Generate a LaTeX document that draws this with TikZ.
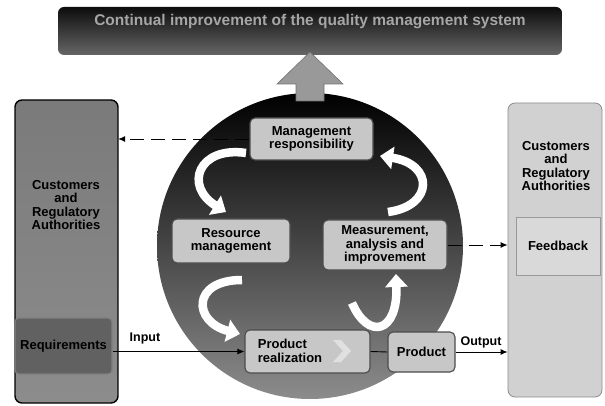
\documentclass[tikz,border=0pt]{standalone}
\usepackage{fontspec}
\setmainfont{Liberation Sans}
\usetikzlibrary{arrows.meta}
\newcommand\dgfont{\fontsize{13}{13.5}\selectfont\bfseries}
\tikzset{
  pbox/.style={draw=black!70, fill=black!22, rounded corners=5pt, line width=1.1pt,
    font=\dgfont, align=center, inner sep=0pt},
  warr/.style={draw=white, line width=8.5pt, -{Triangle[width=22pt,length=13pt]}},
  dasharr/.style={draw=black, line width=0.9pt, dash pattern=on 14pt off 7pt,
    -{Latex[length=7pt,width=6pt]}},
  flowarr/.style={draw=black, line width=0.9pt, -{Latex[length=7pt,width=6pt]}},
  lbl/.style={font=\fontsize{12.5}{13}\selectfont\bfseries, inner sep=0pt},
}
\begin{document}
\begin{tikzpicture}[x=1pt,y=-1pt]
\useasboundingbox (0,0) rectangle (605,406);
% banner
\shade[top color=black!95, bottom color=black!60, rounded corners=6pt]
  (58,7) rectangle (562,55);
\node[font=\fontsize{15.5}{16}\selectfont\bfseries, text=black!35, inner sep=0pt] (banner)
  at (310,22) {Continual improvement of the quality management system};
% left box
\shade[top color=black!52, middle color=black!70, bottom color=black!45, rounded corners=7pt,
  draw=black, line width=1.4pt] (15,100) rectangle (118,403);
\node[minimum width=103pt, minimum height=303pt, inner sep=0pt] (leftbox) at (66.5,251.5) {};
\node[font=\dgfont, align=center, text=black, inner sep=0pt] (lefttext) at (66,205)
  {\fontsize{13}{19.5}\selectfont Customers\\and\\Regulatory\\Authorities};
\node[pbox, draw=black!50, fill=black!62, minimum width=97pt, minimum height=56pt,
  rounded corners=4pt] (requirements) at (63.5,346) {Requirements};
% right box
\node[draw=black!45, fill=black!18, rounded corners=7pt, line width=0.8pt,
  minimum width=94pt, minimum height=294pt, inner sep=0pt] (rightbox) at (555,250) {};
\node[font=\dgfont, align=center, inner sep=0pt] (righttext) at (556,166)
  {\fontsize{13}{18.5}\selectfont Customers\\and\\Regulatory\\Authorities};
\node[draw=black!40, fill=black!15, line width=0.6pt, minimum width=84pt,
  minimum height=58pt, inner sep=0pt, font=\dgfont] (feedback) at (558,246) {Feedback};
% circle
\shade[top color=black, middle color=black!88, bottom color=black!45]
  (310,246) circle (153);
\node[minimum size=306pt, circle, inner sep=0pt] (circ) at (310,246) {};
% up arrow
\filldraw[fill=black!40, draw=black!55, line width=0.6pt]
  (296,101) -- (296,84) -- (277,84) -- (310,52) -- (343,84) -- (324,84) -- (324,101) -- cycle;
% boxes in circle
\node[pbox, minimum width=123pt, minimum height=42pt] (mgmt) at (311.5,139)
  {Management\\responsibility};
\node[pbox, minimum width=118pt, minimum height=44pt] (resource) at (231,241)
  {Resource\\management};
\node[pbox, minimum width=124pt, minimum height=50pt] (measure) at (385,245)
  {Measurement,\\analysis and\\improvement};
\node[pbox, minimum width=125pt, minimum height=43pt] (realization) at (307.5,351.5) {};
\node[font=\dgfont, align=left, inner sep=0pt] (realtext) at (290,351)
  {Product\\realization};
\fill[white!88!black] (333,340) -- (341,340) -- (351,351) -- (341,362) -- (333,362) -- (343,351) -- cycle;
\node[pbox, minimum width=67pt, minimum height=40pt] (product) at (421.5,352) {Product};
% white curved arrows
\coordinate (a1s) at (246,153);
\coordinate (a1e) at (226,212);
\draw[warr] (a1s) .. controls (198,146) and (184,186) .. (a1e);
\coordinate (a2s) at (388,212);
\coordinate (a2e) at (380,156);
\draw[warr] (a2s) .. controls (434,206) and (434,164) .. (a2e);
\coordinate (a3s) at (242,280);
\coordinate (a3e) at (240,334);
\draw[warr] (a3s) .. controls (191,280) and (193,322) .. (a3e);
\coordinate (a4s) at (352,303);
\coordinate (a4e) at (396,274);
\draw[warr] (a4s) .. controls (368,340) and (398,334) .. (a4e);
% connectors
\draw[dasharr] (mgmt.west) -- (mgmt.west -| leftbox.east);
\draw[dasharr] (measure.east) -- (measure.east -| rightbox.west);
\draw[flowarr] (realization.west -| requirements.east) -- (realization.west);
\draw[black, line width=0.9pt] (realization.east) -- (product.west);
\draw[flowarr] (product.east) -- (product.east -| rightbox.west);
\node[lbl] (inlbl) at (145,338) {Input};
\node[lbl] (outlbl) at (481,342) {Output};
\end{tikzpicture}
\end{document}
